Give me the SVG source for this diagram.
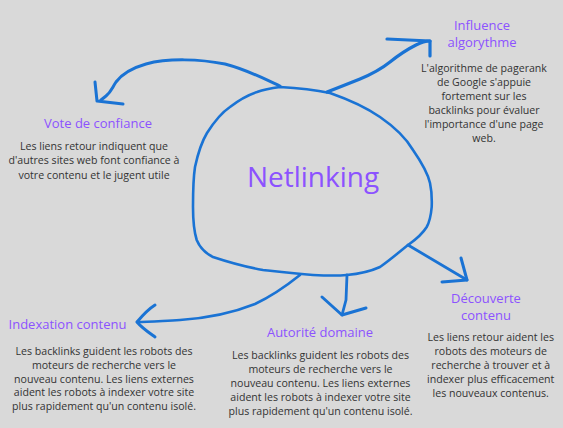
<svg xmlns="http://www.w3.org/2000/svg" width="563" height="428" viewBox="0 0 563 428">
<style>
.title{font-family:"Open Sans","Liberation Sans",sans-serif;font-size:13px;fill:#8c52ff;text-anchor:middle}
.body{font-family:"Open Sans","Liberation Sans",sans-serif;font-size:10.6px;fill:#333333;text-anchor:middle}
.main{font-family:"Open Sans","Liberation Sans",sans-serif;font-size:28px;fill:#8c52ff;text-anchor:middle}
.stroke{fill:none;stroke:#1a73d4;stroke-linecap:round;stroke-linejoin:round}
</style>
<rect width="563" height="428" fill="#d9d9d9"/>
<g id="netlinking">
<path class="stroke" stroke-width="2.6" d="M280,87 C300,88 316,90 330,93 C350,100 367,108 380,117 C396,128 406,138 413,150 C422,163 428,174 430,183 C432,192 432,199 431.7,207 C431,215 430,221 426.7,227 C421,236 415,240 408,245 C398,253 390,260 380,267 C369,272 358,274 346.7,275 C336,276 324,275.5 313,275 C296,274 280,272 263,270 C246,267 228,262 213,257 C205,253 200,248 196.7,240 C193,228 193,218 193,207 C193,192 193,180 195,167 C198,153 201,143 207,133 C214,122 221,113 230,107 C239,100 248,95 257,92 C265,89 272,88 280,87 Z"/>
<text class="main" x="313" y="187">Netlinking</text>
</g>
<g id="connectors">
<path class="stroke" stroke-width="3" d="M280,86 C262,78 248,70 225,64 C200,59 168,58 146,64 C132,68 122,74 116,82 C112,88 111,92 106,96 L101,100"/>
<path class="stroke" stroke-width="3" d="M95,82 L97,101 L123,104"/>
<path class="stroke" stroke-width="3.2" d="M327,92 C340,87 350,83 360,79 C372,74 380,70 390,62 C400,54 408,49 416,45 C422,42 426,41 430,41"/>
<path class="stroke" stroke-width="3.2" d="M387,39 L430,41 L430,56"/>
<path class="stroke" stroke-width="2.8" d="M408,245 L467,280"/>
<path class="stroke" stroke-width="3" d="M461,258 L467,280 L442,282"/>
<path class="stroke" stroke-width="2.8" d="M347,275 L346,300 L342,315"/>
<path class="stroke" stroke-width="3" d="M322,297 L342,315 L366,308"/>
<path class="stroke" stroke-width="2.6" d="M300,275 C285,287 272,296 255,304 C235,312 210,318 180,320 C160,321 148,322 137,322"/>
<path class="stroke" stroke-width="3" d="M155,305 C147,310 142,316 137,322 C142,328 148,332 155,337"/>
</g>
<g id="vote">
<text class="title" x="98" y="128">Vote de confiance</text>
<text class="body" x="94" y="149.5">Les liens retour indiquent que</text>
<text class="body" x="94" y="164">d'autres sites web font confiance à</text>
<text class="body" x="94" y="178.5">votre contenu et le jugent utile</text>
</g>
<g id="influence">
<text class="title" x="482" y="29.5">Influence</text>
<text class="title" x="482" y="47">algorythme</text>
<text class="body" x="484" y="71.7">L'algorithme de pagerank</text>
<text class="body" x="484" y="85.7">de Google s'appuie</text>
<text class="body" x="484" y="99.7">fortement sur les</text>
<text class="body" x="484" y="113.7">backlinks pour évaluer</text>
<text class="body" x="484" y="127.7">l'importance d'une page</text>
<text class="body" x="484" y="141.7">web.</text>
</g>
<g id="indexation">
<text class="title" x="67.5" y="328.5">Indexation contenu</text>
<text class="body" x="104" y="355">Les backlinks guident les robots des</text>
<text class="body" x="104" y="368.8">moteurs de recherche vers le</text>
<text class="body" x="104" y="382.6">nouveau contenu. Les liens externes</text>
<text class="body" x="104" y="396.4">aident les robots à indexer votre site</text>
<text class="body" x="104" y="410.2">plus rapidement qu'un contenu isolé.</text>
</g>
<g id="autorite">
<text class="title" x="320" y="336.7">Autorité domaine</text>
<text class="body" x="320.5" y="359.3">Les backlinks guident les robots des</text>
<text class="body" x="320.5" y="373.3">moteurs de recherche vers le</text>
<text class="body" x="320.5" y="387.3">nouveau contenu. Les liens externes</text>
<text class="body" x="320.5" y="401.3">aident les robots à indexer votre site</text>
<text class="body" x="320.5" y="415.3">plus rapidement qu'un contenu isolé.</text>
</g>
<g id="decouverte">
<text class="title" x="486" y="302.7">Découverte</text>
<text class="title" x="486" y="320">contenu</text>
<text class="body" x="490.7" y="341">Les liens retour aident les</text>
<text class="body" x="490.7" y="355">robots des moteurs de</text>
<text class="body" x="490.7" y="369">recherche à trouver et à</text>
<text class="body" x="490.7" y="383">indexer plus efficacement</text>
<text class="body" x="490.7" y="397">les nouveaux contenus.</text>
</g>
</svg>
